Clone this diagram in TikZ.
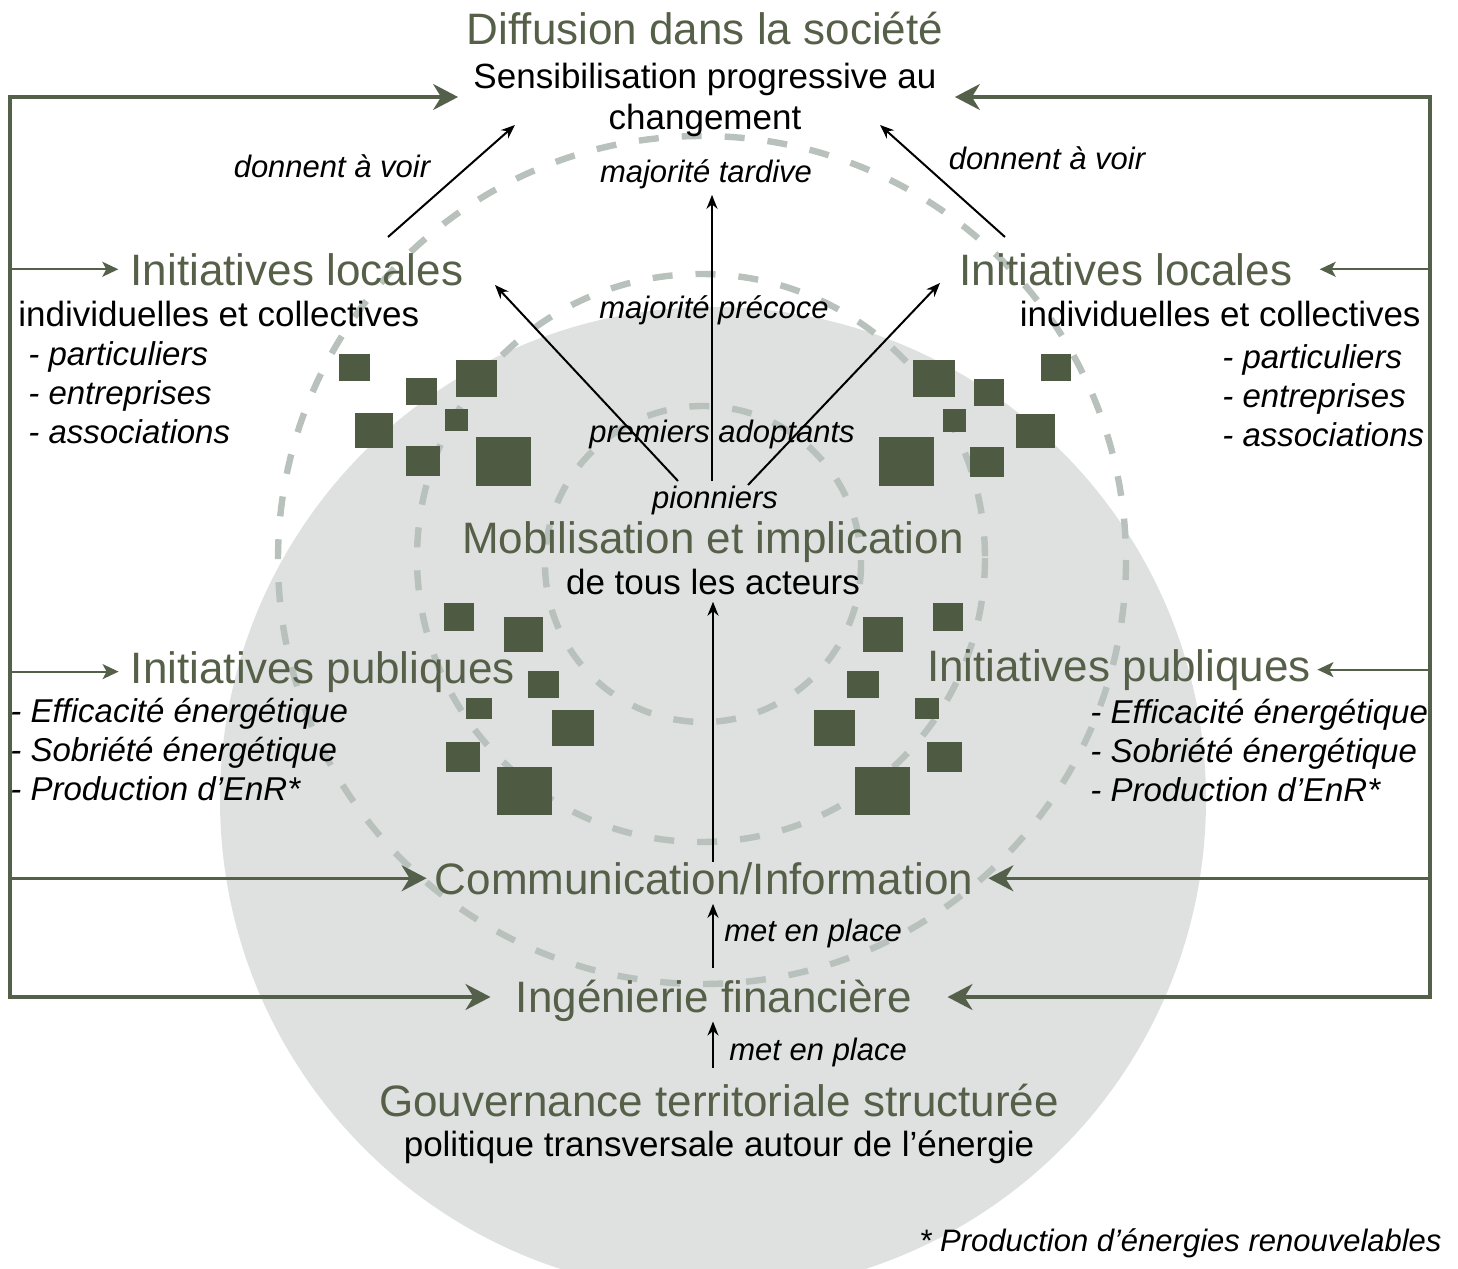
\documentclass[tikz,border=0pt]{standalone}
\usepackage{fontspec}
\setmainfont{Liberation Sans}
\usepackage{xcolor}
\usetikzlibrary{arrows.meta}
\definecolor{VertTitre}{HTML}{566049}
\definecolor{VertCarre}{HTML}{4F5A42}
\definecolor{VertTrait}{HTML}{55604A}
\definecolor{GrisDisque}{HTML}{DEE1E0}
\definecolor{GrisTirets}{HTML}{B8C1BC}

\begin{document}
\begin{tikzpicture}[
  x = 0.5pt, y = -0.5pt,
  titre/.style = {text = VertTitre, font = \fontsize{22}{26}\selectfont, inner sep = 0pt, anchor = base},
  soustitre/.style = {font = \fontsize{17.5}{21}\selectfont, inner sep = 0pt, anchor = base},
  etiquette/.style = {font = \fontsize{15.5}{18}\selectfont\itshape, inner sep = 0pt, anchor = base},
  liste/.style = {font = \fontsize{16.5}{19.5}\selectfont\itshape, inner sep = 0pt, anchor = base west},
  carre/.style = {fill = VertCarre},
  cercle pointille/.style = {draw = GrisTirets, line width = 3.2pt, dash pattern = on 10pt off 11.5pt},
  fleche/.style = {line width = 1pt, -{Stealth[length = 7pt, width = 5.5pt]}},
  grande fleche/.style = {draw = VertTrait, line width = 1.6pt, -{Stealth[length = 12.5pt, width = 13pt, inset = 4pt]}},
  petite fleche/.style = {draw = VertTrait, line width = 1pt, -{Stealth[length = 8pt, width = 7.5pt, inset = 2pt]}}
]
  \useasboundingbox (0, 0) rectangle (1458, 1269);
  \clip (0, 0) rectangle (1458, 1269);

  \fill[GrisDisque] (713, 800) circle[radius = 493];
  \foreach \cx/\cy/\r in {703/564/158, 701/558/284, 702/560/424}
  \draw[cercle pointille] (\cx, \cy) circle[radius = \r];

  \foreach \xa/\ya/\xb/\yb in {339/354/370/381, 406/378/437/405, 456/360/497/397, 355/413/393/448,
    445/409/468/431, 406/446/440/476, 476/437/531/486,
    913/360/955/397, 974/379/1004/406, 1041/354/1071/381, 943/409/966/432,
    1016/414/1055/448, 879/437/934/486, 970/447/1004/477,
    444/603/474/631, 504/617/543/652, 528/671/559/698, 466/698/492/719,
    552/710/594/746, 446/742/480/772, 497/767/552/815,
    933/603/963/631, 863/617/903/652, 847/671/879/698, 915/698/939/719,
    814/710/855/746, 927/742/962/772, 855/767/910/815}
  \fill[carre] (\xa, \ya) rectangle (\xb, \yb);

  \node[titre] (diffusion) at (705, 44) {Diffusion dans la société};
  \node[soustitre] (sensib) at (705, 88) {Sensibilisation progressive au};
  \node[soustitre] (changement) at (705, 129) {changement};

  \node[etiquette] (voirG) at (332, 177) {donnent à voir};
  \node[etiquette] (voirD) at (1047, 169) {donnent à voir};
  \node[etiquette] (tardive) at (706, 182) {majorité tardive};
  \node[etiquette] (precoce) at (714, 318) {majorité précoce};
  \node[etiquette] (adoptants) at (722, 442) {premiers adoptants};
  \node[etiquette] (pionniers) at (715, 508) {pionniers};

  \node[titre] (locG) at (297, 285) {Initiatives locales};
  \node[soustitre, anchor = base west] (indivG) at (18, 326) {individuelles et collectives};
  \foreach \t [count = \i from 0] in {particuliers, entreprises, associations}
  \node[liste] (locG\i) at (28, 365 + 39*\i) {- \t};

  \node[titre] (locD) at (1126, 285) {Initiatives locales};
  \node[soustitre, anchor = base east] (indivD) at (1421, 326) {individuelles et collectives};
  \foreach \t [count = \i from 0] in {particuliers, entreprises, associations}
  \node[liste] (locD\i) at (1222, 368 + 39*\i) {- \t};

  \node[titre] (mobil) at (713, 553) {Mobilisation et implication};
  \node[soustitre] (acteurs) at (713, 594) {de tous les acteurs};

  \node[titre] (pubG) at (323, 683) {Initiatives publiques};
  \foreach \t [count = \i from 0] in {Efficacité énergétique, Sobriété énergétique, Production d’EnR*}
  \node[liste] (pubG\i) at (10, 722 + 39*\i) {- \t};

  \node[titre] (pubD) at (1119, 681) {Initiatives publiques};
  \foreach \t [count = \i from 0] in {Efficacité énergétique, Sobriété énergétique, Production d’EnR*}
  \node[liste] (pubD\i) at (1090, 723 + 39*\i) {- \t};

  \node[titre] (comm) at (704, 894) {Communication/Information};
  \node[etiquette, anchor = base west] (place1) at (724, 941) {met en place};
  \node[titre] (ing) at (714, 1012) {Ingénierie financière};
  \node[etiquette, anchor = base west] (place2) at (729, 1060) {met en place};
  \node[titre] (gouv) at (719, 1116) {Gouvernance territoriale structurée};
  \node[soustitre] (politique) at (719, 1156) {politique transversale autour de l’énergie};
  \node[etiquette, anchor = base east] (note) at (1442, 1251) {* Production d’énergies renouvelables};

  % cadre vert
  \coordinate (gHaut) at (10, 97);
  \coordinate (gBas) at (10, 997);
  \coordinate (dHaut) at (1430, 97);
  \coordinate (dBas) at (1430, 997);
  \draw[grande fleche, shorten > = 7.5pt] (gBas) -- (gHaut) -- (gHaut -| sensib.west);
  \draw[grande fleche, shorten > = 12.5pt] (gHaut) -- (gBas) -- (gBas -| ing.west);
  \draw[grande fleche, shorten > = 9pt] (dBas) -- (dHaut) -- (dHaut -| sensib.east);
  \draw[grande fleche, shorten > = 17.5pt] (dHaut) -- (dBas) -- (dBas -| ing.east);
  \draw[grande fleche, shorten > = 4pt] (gHaut |- comm) -- (comm);
  \draw[grande fleche, shorten > = 7.5pt] (dHaut |- comm) -- (comm);
  \draw[petite fleche, shorten > = 6pt] (gHaut |- locG) -- (locG);
  \draw[petite fleche, shorten > = 13.5pt] (dHaut |- locD) -- (locD);
  \draw[petite fleche, shorten > = 6pt] (gHaut |- pubG) -- (pubG);
  \draw[petite fleche, shorten > = 3pt] (dHaut |- pubD) -- (pubD);

  % fleches noires
  \coordinate (voirGa) at (388, 237);
  \coordinate (voirGb) at (515, 125);
  \coordinate (voirDa) at (1005, 237);
  \coordinate (voirDb) at (880, 125);
  \coordinate (pionG) at (678, 481);
  \coordinate (pionM) at (712, 481);
  \coordinate (pionD) at (748, 485);
  \coordinate (versLocG) at (495, 285);
  \coordinate (versLocD) at (940, 283);
  \coordinate (depCom) at (713, 968);
  \coordinate (depIng) at (713, 1068);
  \draw[fleche] (voirGa) -- (voirGb);
  \draw[fleche] (voirDa) -- (voirDb);
  \draw[fleche] (pionG) -- (versLocG);
  \draw[fleche] (pionD) -- (versLocD);
  \draw[fleche, shorten > = 3pt] (pionM) -- (pionM |- tardive.south);
  \draw[fleche, shorten > = 3.5pt] (acteurs.south |- comm.north) -- (acteurs.south);
  \draw[fleche, shorten > = 4.5pt] (depCom) -- (depCom |- comm.south);
  \draw[fleche] (depIng) -- (depIng |- ing.south);
\end{tikzpicture}
\end{document}
